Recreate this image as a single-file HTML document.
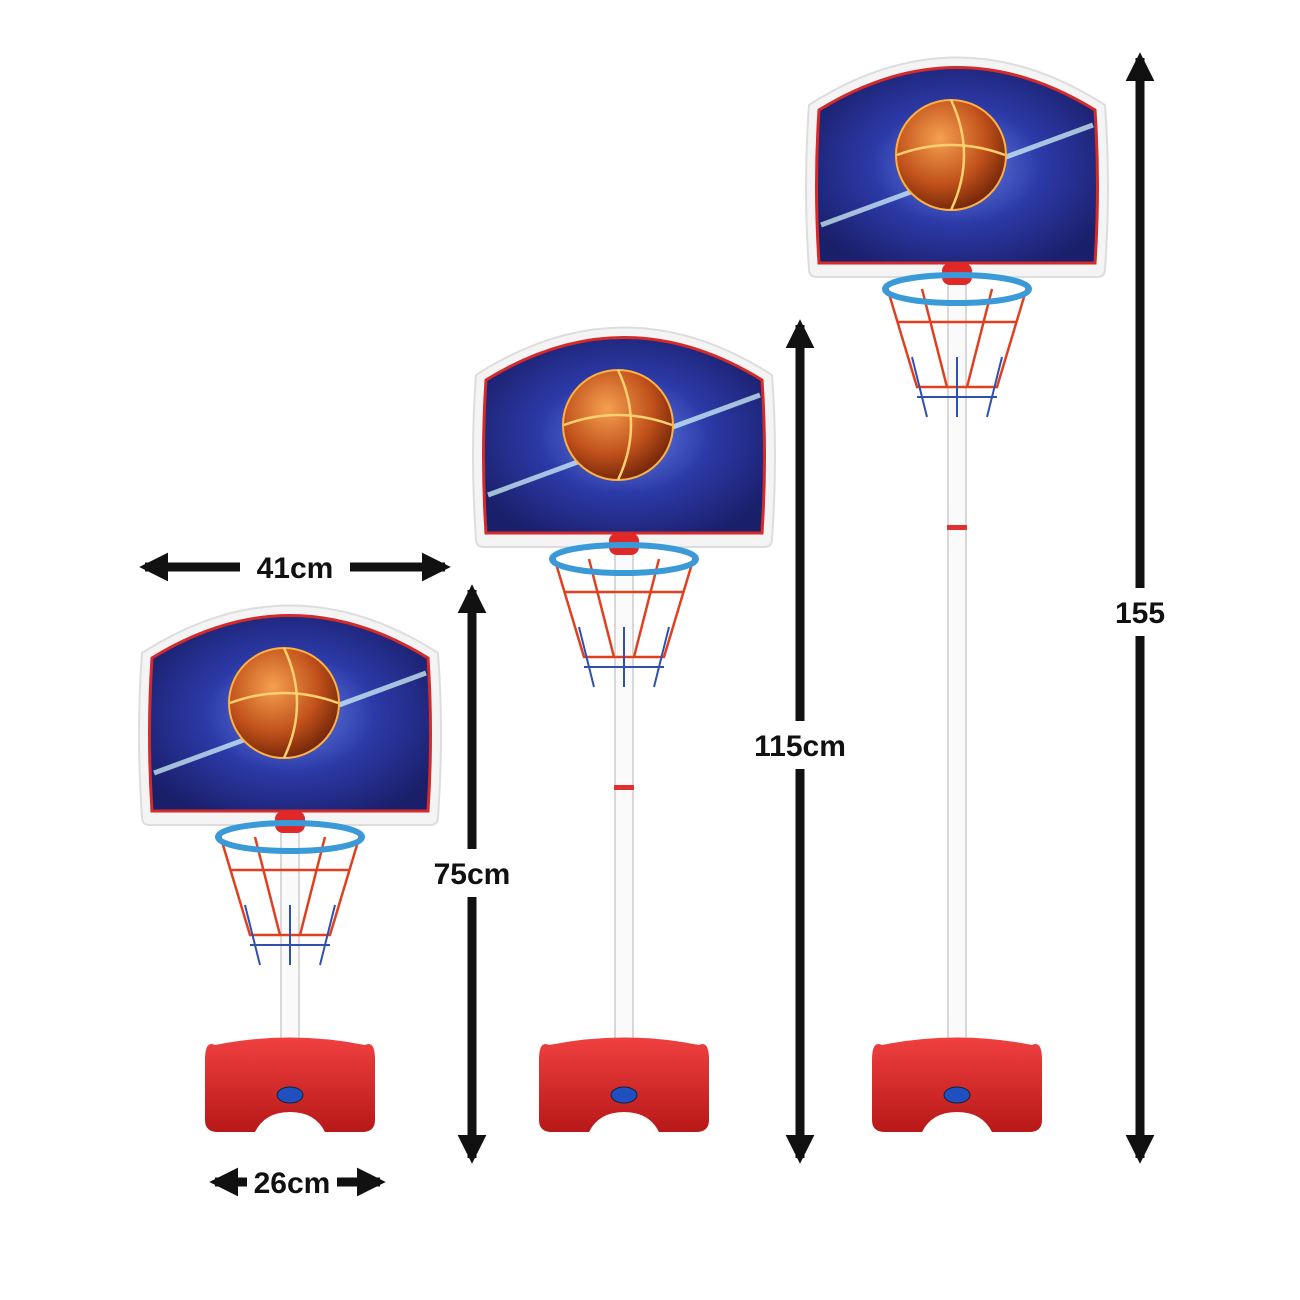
<!DOCTYPE html>
<html><head><meta charset="utf-8"><style>
html,body{margin:0;padding:0;background:#fff;}
svg{display:block}
text{font-family:"Liberation Sans",sans-serif;font-weight:bold;font-size:30px;fill:#111}
</style></head><body>
<svg id="s" width="1300" height="1300" viewBox="0 0 1300 1300">
<defs>
<radialGradient id="bg" cx="0.5" cy="0.5" r="0.6">
<stop offset="0" stop-color="#6a86e8"/><stop offset="0.5" stop-color="#2c3aa8"/><stop offset="1" stop-color="#1a1f6a"/>
</radialGradient>
<radialGradient id="ball" cx="0.4" cy="0.35" r="0.7">
<stop offset="0" stop-color="#f5a050"/><stop offset="0.6" stop-color="#c0501a"/><stop offset="1" stop-color="#6a2208"/>
</radialGradient>
<linearGradient id="base" x1="0" y1="0" x2="0" y2="1">
<stop offset="0" stop-color="#f04040"/><stop offset="1" stop-color="#b81818"/>
</linearGradient>
<marker id="ah" viewBox="0 0 10 10" refX="8" refY="5" markerWidth="3.2" markerHeight="3.2" orient="auto-start-reverse"><path d="M0,0 L10,5 L0,10 z" fill="#111"/></marker>
</defs>
</svg>
<script>
const NS='http://www.w3.org/2000/svg';
const svg=document.getElementById('s');
function el(tag,attrs,parent){const e=document.createElementNS(NS,tag);for(const k in attrs)e.setAttribute(k,attrs[k]);(parent||svg).appendChild(e);return e;}
function hoop(cx,top,joint,name){
  const g=el('g',{});
  
  
  const L=cx-148,R=cx+148,B=top+222;
  // pole
  el('rect',{x:cx-9,y:B,width:18,height:1085-B,fill:'#fafafa',stroke:'#ccc','stroke-width':1.5},g);
  if(joint) el('rect',{x:cx-10,y:joint,width:20,height:5,fill:'#e03030'},g);
  // base
  el('path',{d:`M${cx-75},1045 Q${cx-85},1040 ${cx-85},1060 L${cx-85},1120 Q${cx-85},1132 ${cx-72},1132 L${cx-35},1132 Q${cx-25},1112 ${cx},1112 Q${cx+25},1112 ${cx+35},1132 L${cx+72},1132 Q${cx+85},1132 ${cx+85},1120 L${cx+85},1060 Q${cx+85},1040 ${cx+75},1045 Q${cx},1030 ${cx-75},1045 z`,fill:'url(#base)'},g);
  el('ellipse',{cx:cx,cy:1095,rx:13,ry:8,fill:'#2050c0',stroke:'#123',"stroke-width":1},g);
  // backboard
  const d=`M${L},${top+50} Q${cx},${top-45} ${R},${top+50} Q${R+6},${top+130} ${R},${B-8} Q${R},${B} ${R-8},${B} L${L+8},${B} Q${L},${B} ${L},${B-8} Q${L-6},${top+130} ${L},${top+50} z`;
  el('path',{d:d,fill:'#f4f4f4',stroke:'#ddd','stroke-width':2},g);
  const d2=`M${L+10},${top+55} Q${cx},${top-30} ${R-10},${top+55} Q${R-5},${top+130} ${R-10},${B-14} L${L+10},${B-14} Q${L+5},${top+130} ${L+10},${top+55} z`;
  el('path',{d:d2,fill:'url(#bg)',stroke:'#d42a2a','stroke-width':3},g);
  el('path',{d:`M${L+12},${top+170} Q${cx},${top+120} ${R-12},${top+70}`,stroke:'#dff',"stroke-width":5,fill:'none',opacity:0.7},g);
  el('circle',{cx:cx-6,cy:top+100,r:55,fill:'url(#ball)',stroke:'#ffb040','stroke-width':2},g);
  el('path',{d:`M${cx-60},${top+100} Q${cx-6},${top+80} ${cx+48},${top+100} M${cx-6},${top+45} Q${cx+20},${top+100} ${cx-6},${top+155}`,stroke:'#ffd070','stroke-width':2.5,fill:'none'},g);
  // bracket
  el('rect',{x:cx-15,y:B-14,width:30,height:22,rx:8,fill:'#e02828'},g);
  // net
  el('path',{d:`M${cx-70},${B+10} L${cx-40},${B+110} L${cx+40},${B+110} L${cx+70},${B+10} M${cx-35},${B+12} L${cx-10},${B+110} M${cx+35},${B+12} L${cx+10},${B+110} M${cx-60},${B+45} L${cx+60},${B+45}`,stroke:'#e04020','stroke-width':2.5,fill:'none'},g);
  el('path',{d:`M${cx-45},${B+80} L${cx-30},${B+140} M${cx},${B+80} L${cx},${B+140} M${cx+45},${B+80} L${cx+30},${B+140} M${cx-40},${B+120} L${cx+40},${B+120}`,stroke:'#3050b0','stroke-width':2,fill:'none'},g);
  // rim
  el('ellipse',{cx:cx,cy:B+12,rx:72,ry:14,fill:'none',stroke:'#3a9ad8','stroke-width':6},g);
}
hoop(290,603,null,'hoop-75cm');
hoop(624,325,785,'hoop-115cm');
hoop(957,55,525,'hoop-155cm');
function arrow(x1,y1,x2,y2,name){
  const l=el('line',{x1:x1,y1:y1,x2:x2,y2:y2,stroke:'#111','stroke-width':9,'marker-start':'url(#ah)','marker-end':'url(#ah)'});
  
  
}
function label(x,y,t,name,w){
  el('rect',{x:x-w/2,y:y-24,width:w,height:48,fill:'#fff'});
  const e=el('text',{x:x,y:y+11,'text-anchor':'middle'});e.textContent=t;
  
  
}
arrow(145,567,445,567,'width-arrow');label(295,567,'41cm','width-label',110);
arrow(215,1182,380,1182,'base-arrow');label(292,1182,'26cm','base-width-label',90);
arrow(472,590,472,1158,'height-75-arrow');label(472,873,'75cm','height-75-label',90);
arrow(800,325,800,1158,'height-115-arrow');label(800,745,'115cm','height-115-label',110);
arrow(1140,58,1140,1158,'height-155-arrow');label(1140,612,'155','height-155-label',80);
</script>
</body></html>
